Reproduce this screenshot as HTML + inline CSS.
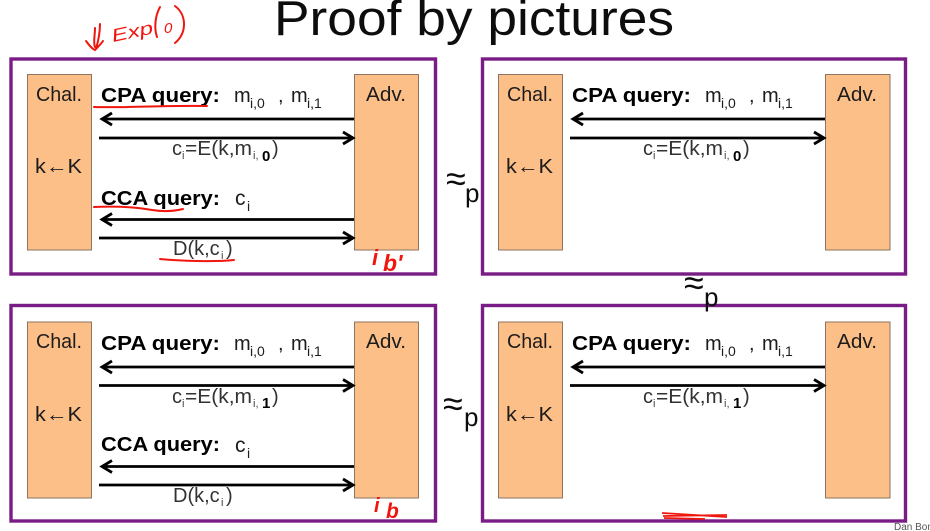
<!DOCTYPE html>
<html>
<head>
<meta charset="utf-8">
<title>Proof by pictures</title>
<style>
html,body{margin:0;padding:0;background:#fff;width:930px;height:531px;overflow:hidden}
svg{display:block}
text{font-family:"Liberation Sans",sans-serif;fill:#1c1c1c}
.h{font-size:20px}
.b{font-size:20.500px;font-weight:bold;fill:#000}
.m{font-size:20px}
.s{font-size:14px}
.e{font-size:20px;fill:#333}
.es{font-size:11px;fill:#444}
.eb{font-size:15px;font-weight:bold;fill:#000}
.ink{fill:#f01810;font-style:italic;font-family:"Liberation Sans",sans-serif}
.ap{font-size:36px;fill:#111}
.ps{font-size:26px;fill:#111}
.frame{fill:#fff;stroke:#7a1f85;stroke-width:3.4}
.box{fill:#fdbf88;stroke:#8c7660;stroke-width:1}
.ln{stroke:#000;stroke-width:2.8;fill:none}
.hd{stroke:#000;stroke-width:2.8;fill:none}
.red{stroke:#f01810;stroke-width:2;fill:none;stroke-linecap:round}
</style>
</head>
<body>
<svg width="930" height="531" viewBox="0 0 930 531" xmlns="http://www.w3.org/2000/svg">
<defs><filter id="soft" x="-2%" y="-2%" width="104%" height="104%"><feGaussianBlur stdDeviation="0.35"/></filter></defs>
<rect width="930" height="531" fill="#fff"/>
<g filter="url(#soft)">
<text x="274" y="35" font-size="49" textLength="400" lengthAdjust="spacingAndGlyphs" style="fill:#111">Proof by pictures</text>

<!-- top left -->
<rect class="frame" x="11" y="59" width="424.500" height="215"/>
<rect class="box" x="27.500" y="74.500" width="64" height="175.500"/>
<rect class="box" x="354.500" y="74.500" width="64" height="175.500"/>
<text class="h" x="36" y="101" textLength="46" lengthAdjust="spacingAndGlyphs">Chal.</text>
<text class="h" x="35" y="173" textLength="47" lengthAdjust="spacingAndGlyphs">k←K</text>
<text class="h" x="366" y="101" textLength="40" lengthAdjust="spacingAndGlyphs">Adv.</text>
<text class="b" x="101" y="102" textLength="119" lengthAdjust="spacingAndGlyphs">CPA query:</text>
<text class="m" x="234" y="102">m</text><text class="s" x="250" y="108">i,0</text><text class="m" x="278" y="102">,</text>
<text class="m" x="291" y="102">m</text><text class="s" x="307" y="108">i,1</text>
<path class="ln" d="M102 119H354"/><path class="hd" d="M112 113L102 119L112 125"/>
<path class="ln" d="M99 138H351"/><path class="hd" d="M343 132L353 138L343 144"/>
<text class="e" x="172" y="155">c</text><text class="es" x="182" y="159">i</text><text class="e" x="185" y="155" textLength="67" lengthAdjust="spacingAndGlyphs">=E(k,m</text><text class="es" x="253" y="159">i,</text><text class="eb" x="262" y="161">0</text><text class="e" x="272" y="155">)</text>
<text class="b" x="101" y="205" textLength="119" lengthAdjust="spacingAndGlyphs">CCA query:</text>
<text class="m" x="235" y="205" style="font-size:21px">c</text><text class="s" x="247" y="211">i</text>
<path class="ln" d="M102 219.500H354"/><path class="hd" d="M112 213.500L102 219.500L112 225.500"/>
<path class="ln" d="M99 238H351"/><path class="hd" d="M343 232L353 238L343 244"/>
<text class="e" x="173" y="255">D(k,c</text><text class="es" x="221" y="259">i</text><text class="e" x="226" y="255">)</text>

<!-- top right -->
<rect class="frame" x="482.500" y="59" width="423" height="215"/>
<rect class="box" x="498.500" y="74.500" width="64" height="175.500"/>
<rect class="box" x="825.500" y="74.500" width="64.500" height="175.500"/>
<text class="h" x="507" y="101" textLength="46" lengthAdjust="spacingAndGlyphs">Chal.</text>
<text class="h" x="506" y="173" textLength="47" lengthAdjust="spacingAndGlyphs">k←K</text>
<text class="h" x="837" y="101" textLength="40" lengthAdjust="spacingAndGlyphs">Adv.</text>
<text class="b" x="572" y="102" textLength="119" lengthAdjust="spacingAndGlyphs">CPA query:</text>
<text class="m" x="705" y="102">m</text><text class="s" x="721" y="108">i,0</text><text class="m" x="749" y="102">,</text>
<text class="m" x="762" y="102">m</text><text class="s" x="778" y="108">i,1</text>
<path class="ln" d="M573 119H825"/><path class="hd" d="M583 113L573 119L583 125"/>
<path class="ln" d="M570 138H822"/><path class="hd" d="M814 132L824 138L814 144"/>
<text class="e" x="643" y="155">c</text><text class="es" x="653" y="159">i</text><text class="e" x="656" y="155" textLength="67" lengthAdjust="spacingAndGlyphs">=E(k,m</text><text class="es" x="724" y="159">i,</text><text class="eb" x="733" y="161">0</text><text class="e" x="743" y="155">)</text>

<!-- bottom left -->
<rect class="frame" x="11" y="305.500" width="424.500" height="215.500"/>
<rect class="box" x="27.500" y="322" width="64" height="176"/>
<rect class="box" x="354.500" y="322" width="64" height="176"/>
<text class="h" x="36" y="348" textLength="46" lengthAdjust="spacingAndGlyphs">Chal.</text>
<text class="h" x="35" y="421" textLength="47" lengthAdjust="spacingAndGlyphs">k←K</text>
<text class="h" x="366" y="348" textLength="40" lengthAdjust="spacingAndGlyphs">Adv.</text>
<text class="b" x="101" y="350" textLength="119" lengthAdjust="spacingAndGlyphs">CPA query:</text>
<text class="m" x="234" y="350">m</text><text class="s" x="250" y="356">i,0</text><text class="m" x="278" y="350">,</text>
<text class="m" x="291" y="350">m</text><text class="s" x="307" y="356">i,1</text>
<path class="ln" d="M102 367H354"/><path class="hd" d="M112 361L102 367L112 373"/>
<path class="ln" d="M99 385.500H351"/><path class="hd" d="M343 379.500L353 385.500L343 391.500"/>
<text class="e" x="172" y="403">c</text><text class="es" x="182" y="407">i</text><text class="e" x="185" y="403" textLength="67" lengthAdjust="spacingAndGlyphs">=E(k,m</text><text class="es" x="253" y="407">i,</text><text class="eb" x="262" y="408">1</text><text class="e" x="272" y="403">)</text>
<text class="b" x="101" y="451" textLength="119" lengthAdjust="spacingAndGlyphs">CCA query:</text>
<text class="m" x="235" y="452" style="font-size:21px">c</text><text class="s" x="247" y="458">i</text>
<path class="ln" d="M102 466.500H354"/><path class="hd" d="M112 460.500L102 466.500L112 472.500"/>
<path class="ln" d="M99 485H351"/><path class="hd" d="M343 479L353 485L343 491"/>
<text class="e" x="173" y="502">D(k,c</text><text class="es" x="221" y="506">i</text><text class="e" x="226" y="502">)</text>

<!-- bottom right -->
<rect class="frame" x="482.500" y="305.500" width="423" height="215.500"/>
<rect class="box" x="498.500" y="322" width="64" height="176"/>
<rect class="box" x="825.500" y="322" width="64.500" height="176"/>
<text class="h" x="507" y="348" textLength="46" lengthAdjust="spacingAndGlyphs">Chal.</text>
<text class="h" x="506" y="421" textLength="47" lengthAdjust="spacingAndGlyphs">k←K</text>
<text class="h" x="837" y="348" textLength="40" lengthAdjust="spacingAndGlyphs">Adv.</text>
<text class="b" x="572" y="350" textLength="119" lengthAdjust="spacingAndGlyphs">CPA query:</text>
<text class="m" x="705" y="350">m</text><text class="s" x="721" y="356">i,0</text><text class="m" x="749" y="350">,</text>
<text class="m" x="762" y="350">m</text><text class="s" x="778" y="356">i,1</text>
<path class="ln" d="M573 367H825"/><path class="hd" d="M583 361L573 367L583 373"/>
<path class="ln" d="M570 385.500H822"/><path class="hd" d="M814 379.500L824 385.500L814 391.500"/>
<text class="e" x="643" y="403">c</text><text class="es" x="653" y="407">i</text><text class="e" x="656" y="403" textLength="67" lengthAdjust="spacingAndGlyphs">=E(k,m</text><text class="es" x="724" y="407">i,</text><text class="eb" x="733" y="408">1</text><text class="e" x="743" y="403">)</text>

<!-- approx p -->
<text class="ap" x="446" y="191">≈</text><text class="ps" x="465" y="202">p</text>
<text class="ap" x="443" y="416">≈</text><text class="ps" x="464" y="426">p</text>
<text class="ap" x="684" y="295">≈</text><text class="ps" x="704" y="306">p</text>
<text x="894" y="530" font-size="10" style="fill:#555">Dan Boneh</text>

<!-- red ink annotations -->
<path class="red" d="M95 28C95 36 93 42 95 47M100 24C100 34 98 42 96 49M86 41C89 45 92 49 95 50C98 47 101 44 103 41"/>
<text class="ink" x="113" y="42" font-size="18" textLength="42" lengthAdjust="spacingAndGlyphs" transform="rotate(-12 113 42)">Exp</text>
<path class="red" d="M160 7C155 16 154 28 157 37M175 6C187 15 187 33 175 43"/>
<text class="ink" x="164" y="33" font-size="15">0</text>
<path class="red" d="M94 107C130 108 170 105 207 106"/>
<path class="red" d="M94 207C115 206 135 207 152 210C165 212 175 211 183 209"/>
<path class="red" d="M160 259C180 261 215 262 234 260"/>
<text class="ink" x="372" y="265" font-size="22" font-weight="bold">i</text>
<text class="ink" x="383" y="271" font-size="23" font-weight="bold">b'</text>
<text class="ink" x="374" y="512" font-size="20" font-weight="bold">i</text>
<text class="ink" x="386" y="518" font-size="21" font-weight="bold">b</text>
<path d="M662 513L727 517M663 516L727 515M664 518L705 519" stroke="#f01810" stroke-width="1.7" fill="none"/>
</g>
</svg>
</body>
</html>
